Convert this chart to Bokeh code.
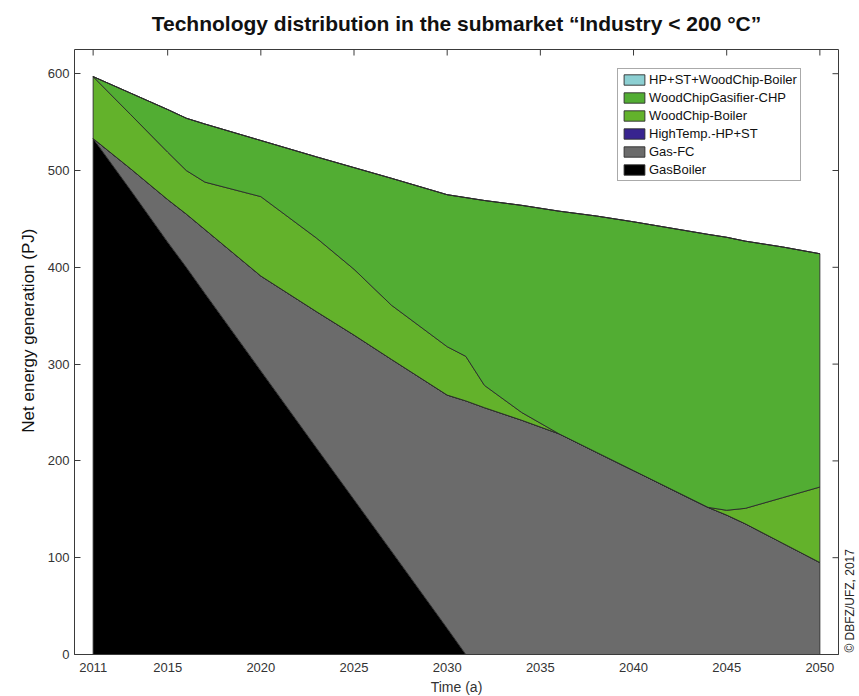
import numpy as np
from bokeh.plotting import figure
from bokeh.models import Range1d, FixedTicker, LinearAxis, Legend, LegendItem
from bokeh.embed import file_html
from bokeh.resources import INLINE

# ---- data (PJ) ----
years = [2011, 2013, 2015, 2016, 2017, 2020, 2023, 2025, 2027, 2030, 2031,
         2032, 2034, 2036, 2038, 2040, 2044, 2045, 2046, 2048, 2050]
gas_boiler = [533, 480, 426, 400, 373, 293, 213, 160, 107, 27, 0,
              0, 0, 0, 0, 0, 0, 0, 0, 0, 0]
gas_fc = [0, 22, 44, 55, 66, 98, 141, 170, 198, 241, 262,
          255, 242, 228, 209, 190, 152, 144, 135, 115, 95]
hightemp_hp_st = [0] * 21
woodchip_boiler = [64, 56, 49, 45, 49, 82, 76, 68, 56, 50, 46,
                   23, 8, 0, 0, 0, 0, 5, 16, 47, 78]
woodchip_chp = [0, 22, 44, 54, 60, 58, 84, 105, 131, 157, 164,
                191, 214, 230, 244, 257, 282, 282, 276, 259, 241]
hp_st_woodchip = [0] * 21

series_names = ["GasBoiler", "Gas-FC", "HighTemp.-HP+ST", "WoodChip-Boiler",
                "WoodChipGasifier-CHP", "HP+ST+WoodChip-Boiler"]
series_values = [gas_boiler, gas_fc, hightemp_hp_st, woodchip_boiler,
                 woodchip_chp, hp_st_woodchip]
series_colors = ["#000000", "#6b6b6b", "#38248f", "#63b22b", "#52ad33", "#8ccfd2"]

x_ticks = [2011, 2015, 2020, 2025, 2030, 2035, 2040, 2045, 2050]
y_ticks = [0, 100, 200, 300, 400, 500, 600]

title_text = "Technology distribution in the submarket \u201cIndustry < 200 \u00b0C\u201d"
x_label = "Time (a)"
y_label = "Net energy generation (PJ)"
credit = "\u00a9 DBFZ/UFZ, 2017"
# anchor heights (in PJ) of the two vertical side texts
y_label_anchor = 440
credit_anchor = 2

FONT = "Liberation Sans"
TXT = "#333333"
AX = "#3a3a3a"

p = figure(title=None, frame_width=764, frame_height=605,
           min_border_left=74, min_border_right=21,
           min_border_top=49, min_border_bottom=42,
           x_range=Range1d(2010, 2051), y_range=Range1d(0, 625),
           output_backend="svg", toolbar_location=None)
p.background_fill_color = "white"
p.border_fill_color = "white"
p.grid.visible = False
p.outline_line_color = AX
p.outline_line_width = 1

# stacked areas
yrs = np.array(years, dtype=float)
bottom = np.zeros(len(years))
renderers = []
for name, vals, col in zip(series_names, series_values, series_colors):
    top = bottom + np.array(vals, dtype=float)
    xs = np.concatenate([yrs, yrs[::-1]])
    ys = np.concatenate([top, bottom[::-1]])
    r = p.patch(xs, ys, fill_color=col, line_color="#2b2b2b", line_width=0.9)
    renderers.append(r)
    bottom = top

# mirrored inward ticks on top and right edges of the box
p.ray(x=x_ticks, y=[p.y_range.end] * len(x_ticks), length=6, length_units="screen",
      angle=-np.pi / 2, line_color=AX, line_width=1)
p.ray(x=[p.x_range.end] * len(y_ticks), y=y_ticks, length=6, length_units="screen",
      angle=np.pi, line_color=AX, line_width=1)

# main axes
for ax in [p.xaxis[0], p.yaxis[0]]:
    ax.axis_line_color = AX
    ax.major_tick_line_color = AX
    ax.minor_tick_line_color = None
    ax.major_tick_out = 0
    ax.major_tick_in = 6
    ax.major_label_text_font = FONT
    ax.major_label_text_font_size = "13px"
    ax.major_label_text_color = TXT

xa = p.xaxis[0]
xa.ticker = FixedTicker(ticks=x_ticks)
xa.major_tick_in = 0
xa.major_label_standoff = 8
xa.axis_label = x_label
xa.axis_label_text_font = FONT
xa.axis_label_text_font_size = "14px"
xa.axis_label_text_font_style = "normal"
xa.axis_label_text_color = TXT
xa.axis_label_standoff = 4

ya = p.yaxis[0]
ya.ticker = FixedTicker(ticks=y_ticks)
ya.major_label_standoff = 5
ya.axis_line_color = None

# y title, written as a rotated label on an extra left axis
yl = LinearAxis(ticker=FixedTicker(ticks=[y_label_anchor]),
                major_label_overrides={y_label_anchor: y_label},
                major_label_orientation=np.pi / 2, major_label_standoff=16,
                major_tick_out=0, major_tick_in=0,
                axis_line_color=None, major_tick_line_color=None, minor_tick_line_color=None,
                major_label_text_font=FONT, major_label_text_font_size="17px",
                major_label_text_color="#111111")
p.add_layout(yl, "left")

# chart title as a label above the frame
tl = LinearAxis(ticker=FixedTicker(ticks=[]),
                axis_line_color=None, major_tick_line_color=None, minor_tick_line_color=None,
                axis_label=title_text, axis_label_standoff=15,
                axis_label_text_font=FONT, axis_label_text_font_size="21px",
                axis_label_text_font_style="bold", axis_label_text_color="#111111")
p.add_layout(tl, "above")

# copyright note on the right side, reading bottom to top, near the bottom corner
cr = LinearAxis(ticker=FixedTicker(ticks=[credit_anchor]),
                major_label_overrides={credit_anchor: credit},
                major_label_orientation=np.pi / 2, major_label_standoff=12,
                major_tick_out=0, major_tick_in=0,
                axis_line_color=None, major_tick_line_color=None, minor_tick_line_color=None,
                major_label_text_font=FONT, major_label_text_font_size="12px",
                major_label_text_color="#222222")
p.add_layout(cr, "right")

# legend (top entry first)
items = [LegendItem(label=n, renderers=[r]) for n, r in zip(series_names[::-1], renderers[::-1])]
legend = Legend(items=items, location=(543, 473), orientation="vertical",
                glyph_width=26, glyph_height=13, label_height=13, spacing=3,
                padding=3, margin=0, label_standoff=2,
                label_text_font=FONT, label_text_font_size="13px",
                label_text_color="#111111",
                border_line_color="#555555", border_line_width=1,
                background_fill_color="white", background_fill_alpha=1)
p.add_layout(legend, "center")

open("out.html", "w").write(file_html(p, INLINE))
